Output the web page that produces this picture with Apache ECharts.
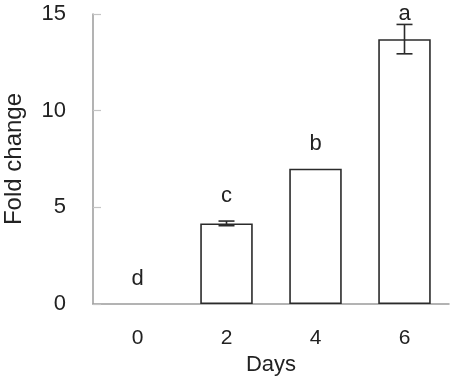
<!DOCTYPE html>
<html>
<head>
<meta charset="utf-8">
<script src="https://cdn.jsdelivr.net/npm/echarts@6/dist/echarts.min.js"></script>
<style>
  html, body { margin: 0; padding: 0; background: #fff; }
  #chart { width: 454px; height: 380px; }
</style>
</head>
<body>
<div id="chart"></div>
<script>
// data
const days = ["0", "2", "4", "6"];
const foldChange = [0, 4.17, 7.0, 13.7];
const errors = [0, 0.12, 0, 0.76];
const letters = ["d", "c", "b", "a"];
const yTicks = [0, 5, 10, 15];

const font = "Liberation Sans, Arial, sans-serif";

let chart = echarts.init(document.getElementById("chart"));
chart.setOption({
  animation: false,
  grid: {
    left: 93,
    right: 5,
    top: 14,
    bottom: 76,
    containLabel: false,
    outerBoundsMode: "none",
  },
  xAxis: {
    type: "category",
    data: days,
    name: "Days",
    nameLocation: "middle",
    nameGap: 50,
    nameTextStyle: { color: "#222", fontSize: 22, fontFamily: font },
    axisLine: { lineStyle: { color: "#9a9a9a", width: 1.5 } },
    axisTick: { show: false },
    axisLabel: { color: "#222", fontSize: 21, fontFamily: font, margin: 24 },
  },
  yAxis: {
    type: "value",
    min: yTicks[0],
    max: yTicks[yTicks.length - 1],
    interval: 5,
    name: "Fold change",
    nameLocation: "middle",
    nameGap: 67,
    nameTextStyle: { color: "#222", fontSize: 24, fontFamily: font },
    axisLine: { show: true, lineStyle: { color: "#9a9a9a", width: 1.5 } },
    axisTick: { show: true, inside: true, length: 8, lineStyle: { color: "#c4c4c4", width: 1.2 } },
    axisLabel: { color: "#222", fontSize: 22, fontFamily: font, margin: 27 },
    splitLine: { show: false },
  },
  series: [
    {
      type: "bar",
      data: foldChange.map((v) => ({
        value: v,
        itemStyle: v > 0 ? {} : { borderWidth: 0 },
      })),
      barWidth: "59%",
      itemStyle: { color: "#fff", borderColor: "#2b2b2b", borderWidth: 1.6 },
    },
    {
      // error bars and significance letters
      type: "custom",
      data: foldChange.map((v, i) => [i, v, errors[i]]),
      z: 5,
      renderItem: (params, api) => {
        let i = api.value(0);
        let mean = api.value(1);
        let err = api.value(2);
        let top = api.coord([i, mean + err]);
        let bottom = api.coord([i, mean - err]);
        let x = top[0];
        let cap = 8;
        let children = [];
        if (err > 0) {
          let ls = { stroke: "#2b2b2b", lineWidth: 1.6 };
          children.push(
            { type: "line", shape: { x1: x, y1: top[1], x2: x, y2: bottom[1] }, style: ls },
            { type: "line", shape: { x1: x - cap, y1: top[1], x2: x + cap, y2: top[1] }, style: ls },
            { type: "line", shape: { x1: x - cap, y1: bottom[1], x2: x + cap, y2: bottom[1] }, style: ls }
          );
        }
        let ty = Math.max(top[1] - 14, 25);
        children.push({
          type: "text",
          style: {
            text: letters[i],
            x: x,
            y: ty,
            align: "center",
            verticalAlign: "bottom",
            fontSize: 22,
            fontFamily: font,
            fill: "#222",
          },
        });
        return { type: "group", children: children };
      },
    },
  ],
});
</script>
</body>
</html>
